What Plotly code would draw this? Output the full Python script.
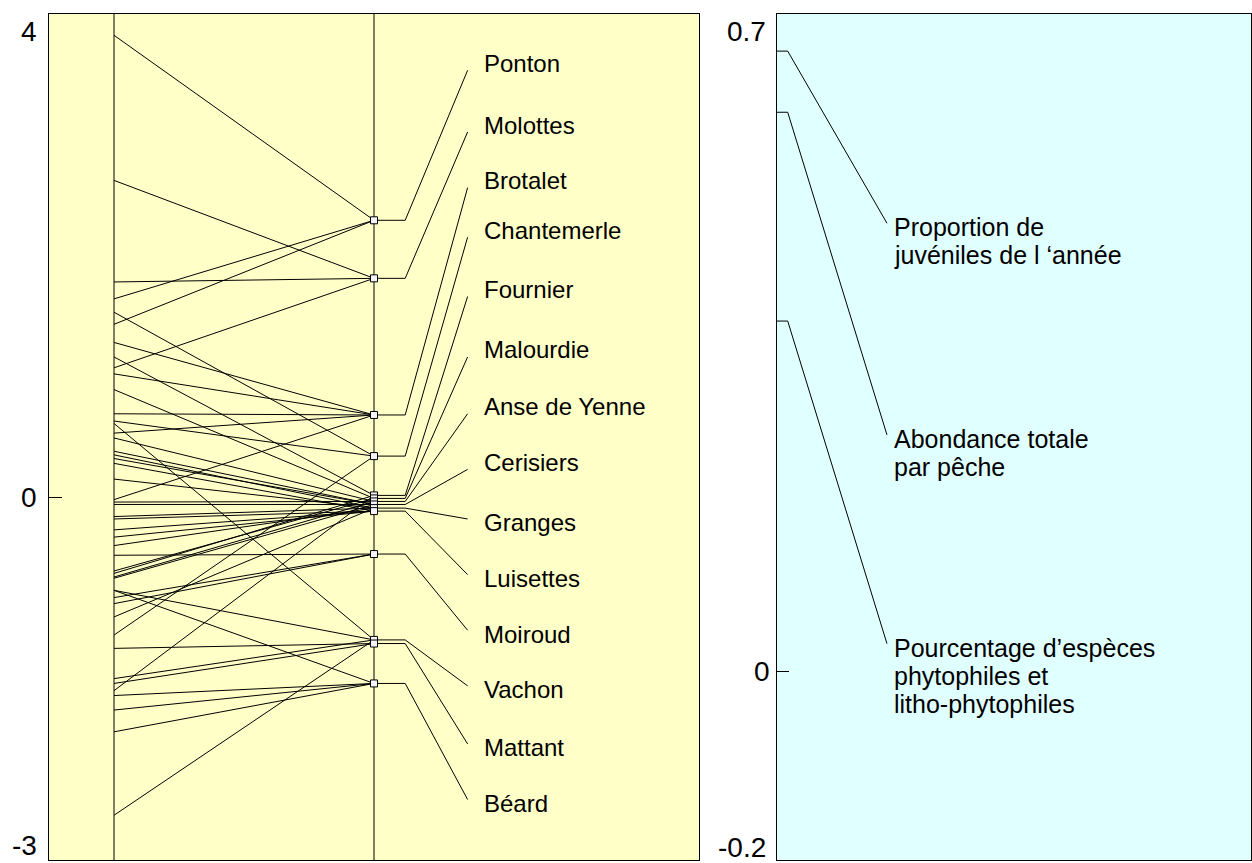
import plotly.graph_objects as go

# ---- site ordination (left panel) ----
site_names = ["Ponton", "Molottes", "Brotalet", "Chantemerle", "Fournier",
              "Malourdie", "Anse de Yenne", "Cerisiers", "Granges", "Luisettes",
              "Moiroud", "Vachon", "Mattant", "Béard"]
site_scores = [2.29, 1.81, 0.68, 0.34, 0.015, -0.01, -0.035, -0.06, -0.09,
               -0.115, -0.47, -1.18, -1.21, -1.54]
# end points of the label leaders
site_label_pos = [3.53, 3.02, 2.56, 2.15, 1.66, 1.16, 0.69, 0.23, -0.18,
                  -0.64, -1.10, -1.56, -2.04, -2.50]

# individual samples and the site each one belongs to
sample_scores = [3.82, 2.62, 1.78, 1.64, 1.53, 1.43, 1.28, 1.16, 1.07, 1.02,
                 0.89, 0.69, 0.63, 0.61, 0.53, 0.49, 0.38, 0.35, 0.32, 0.28,
                 0.15, -0.02, -0.04, -0.06, -0.16, -0.18, -0.27, -0.33, -0.40,
                 -0.48, -0.61, -0.63, -0.66, -0.67, -0.77, -0.77, -0.83, -0.88,
                 -0.99, -1.14, -1.25, -1.50, -1.54, -1.60, -1.64, -1.76, -1.94,
                 -2.63]
sample_sites = ["Ponton", "Molottes", "Molottes", "Ponton", "Chantemerle",
                "Ponton", "Brotalet", "Fournier", "Molottes", "Brotalet",
                "Malourdie", "Brotalet", "Chantemerle", "Vachon", "Brotalet",
                "Anse de Yenne", "Cerisiers", "Granges", "Cerisiers", "Luisettes",
                "Granges", "Brotalet", "Anse de Yenne", "Cerisiers", "Granges",
                "Luisettes", "Luisettes", "Luisettes", "Granges", "Moiroud",
                "Malourdie", "Fournier", "Anse de Yenne", "Cerisiers", "Vachon",
                "Béard", "Moiroud", "Moiroud", "Granges", "Chantemerle",
                "Mattant", "Vachon", "Mattant", "Fournier", "Béard", "Béard",
                "Béard", "Vachon"]

left_ticks = [4, 0, -3]

# ---- variable ordination (right panel) ----
var_names = ["Proportion de<br>juvéniles de l ‘année",
             "Abondance totale<br>par pêche",
             "Pourcentage d’espèces<br>phytophiles et<br>litho-phytophiles"]
var_scores = [0.66, 0.595, 0.373]
var_label_pos = [0.477, 0.252, 0.030]

right_ticks = [0.7, 0, -0.2]

FONT = "Arial, Liberation Sans, sans-serif"
W, H = 1252, 863

fig = go.Figure()

# sample -> site segments
sx, sy = [], []
for val, site in zip(sample_scores, sample_sites):
    sy += [val, site_scores[site_names.index(site)], None]
    sx += [0, 1, None]
fig.add_trace(go.Scatter(x=sx, y=sy, mode="lines",
                         line=dict(color="black", width=1),
                         hoverinfo="skip", showlegend=False))

# site -> label leaders
lx, ly = [], []
for s, lp in zip(site_scores, site_label_pos):
    lx += [1, 1.12, 1.36, None]
    ly += [s, s, lp, None]
fig.add_trace(go.Scatter(x=lx, y=ly, mode="lines",
                         line=dict(color="black", width=1),
                         hoverinfo="skip", showlegend=False))

# site centroids
fig.add_trace(go.Scatter(x=[1] * len(site_scores), y=site_scores, mode="markers",
                         marker=dict(symbol="square", size=7, color="#f4f4f8",
                                     line=dict(color="black", width=1)),
                         text=site_names, hoverinfo="text", showlegend=False))

# variable leaders
vx, vy = [], []
for v, lp in zip(var_scores, var_label_pos):
    vx += [0, 0.0226, 0.232, None]
    vy += [v, v, lp, None]
fig.add_trace(go.Scatter(x=vx, y=vy, mode="lines", xaxis="x2", yaxis="y2",
                         line=dict(color="black", width=1),
                         hoverinfo="skip", showlegend=False))

annotations = []
for name, s, lp in zip(site_names, site_scores, site_label_pos):
    annotations.append(dict(x=1.36, y=lp, xref="x", yref="y", text=name,
                            showarrow=False, xanchor="left", yanchor="middle",
                            xshift=14, yshift=7 if lp > s else -4,
                            font=dict(family=FONT, size=24, color="black")))

for name, lp in zip(var_names, var_label_pos):
    for k, part in enumerate(name.split("<br>")):
        annotations.append(dict(x=0.232, y=lp, xref="x2", yref="y2", text=part,
                                showarrow=False, xanchor="left", yanchor="middle",
                                xshift=5, yshift=-4 - 28 * k,
                                font=dict(family=FONT, size=25, color="black")))

def tick_anns(ticks, xref, yref, xshift, low_shift, mid_xshift):
    out = []
    lo, hi = min(ticks), max(ticks)
    for t in ticks:
        anchor = "top" if t == hi else ("bottom" if t == lo else "middle")
        is_mid = t not in (lo, hi)
        out.append(dict(x=0, y=t, xref=xref, yref=yref, text=f"{t:g}",
                        showarrow=False, xanchor="right", yanchor=anchor,
                        xshift=mid_xshift if is_mid else xshift,
                        yshift=low_shift if t == lo else 0,
                        font=dict(family=FONT, size=28, color="black")))
    return out

annotations += tick_anns(left_ticks, "x domain", "y", -10, -3, -10)
annotations += tick_anns(right_ticks, "x2 domain", "y2", -9, -5, -5)

shapes = [
    dict(type="rect", xref="x domain", yref="y domain", x0=0, x1=1, y0=0, y1=1,
         fillcolor="#ffffc8", line=dict(width=0), layer="below"),
    dict(type="rect", xref="x2 domain", yref="y2 domain", x0=0, x1=1, y0=0, y1=1,
         fillcolor="#e0ffff", line=dict(width=0), layer="below"),
    dict(type="line", xref="x", yref="y domain", x0=0, x1=0, y0=0, y1=1,
         line=dict(color="black", width=1), layer="below"),
    dict(type="line", xref="x", yref="y domain", x0=1, x1=1, y0=0, y1=1,
         line=dict(color="black", width=1), layer="below"),
]

ydom = [1 - 860 / H, 1 - 13.5 / H]
axis_common = dict(showgrid=False, zeroline=False, showline=True, mirror=True,
                   linecolor="black", linewidth=1)

fig.update_layout(
    width=W, height=H,
    margin=dict(l=0, r=0, t=0, b=0),
    paper_bgcolor="white", plot_bgcolor="rgba(0,0,0,0)",
    xaxis=dict(domain=[49 / W, 699 / W], range=[-0.25, 2.25],
               showticklabels=False, ticks="", **axis_common),
    yaxis=dict(domain=ydom, range=[-3, 4], tickvals=left_ticks,
               showticklabels=False, ticks="inside", ticklen=13,
               tickcolor="black", **axis_common),
    xaxis2=dict(domain=[777 / W, 1251 / W], range=[0, 1], anchor="y2",
                showticklabels=False, ticks="", **axis_common),
    yaxis2=dict(domain=ydom, range=[-0.2, 0.7], anchor="x2", tickvals=right_ticks,
                showticklabels=False, ticks="inside", ticklen=12,
                tickcolor="black", **axis_common),
    annotations=annotations,
    shapes=shapes,
    showlegend=False,
)

fig.write_html("out.html")
